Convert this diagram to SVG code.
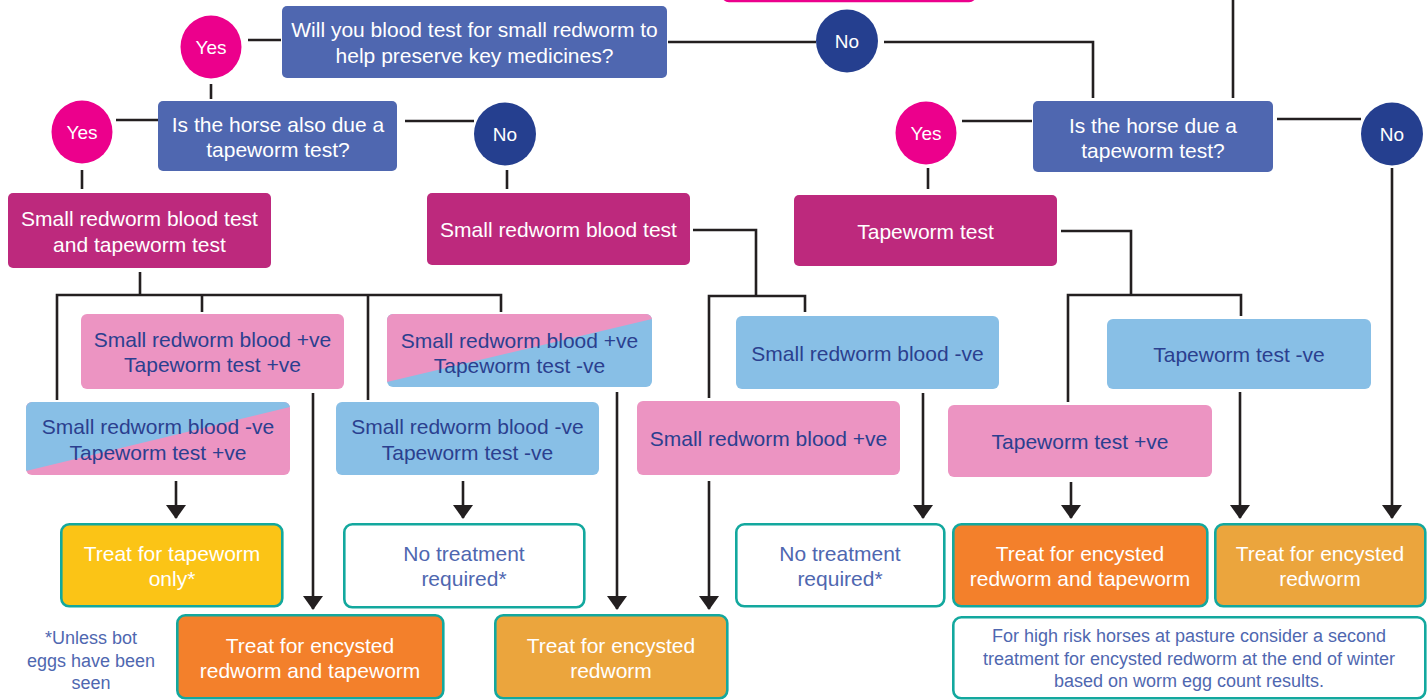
<svg xmlns="http://www.w3.org/2000/svg" width="1427" height="700" viewBox="0 0 1427 700">
<style>
text{font-family:"Liberation Sans",Arial,sans-serif;font-size:21px;text-anchor:middle}
.q{fill:#4F67B0}
.qt{fill:#FFFFFF}
.yes{fill:#EC008C}
.no{fill:#253F8F}
.ct{fill:#FFFFFF;font-size:19px}
.mag{fill:#BD297D}
.pink{fill:#EC94C2}
.blue{fill:#88BFE6}
.dt{fill:#2B3F8F}
.out{stroke:#13A89E;stroke-width:2.6}
.w{fill:#FFFFFF}
.yel{fill:#FBC416}
.org{fill:#F3802B}
.lor{fill:#EBA53D}
.bt{fill:#4F67B0}
.sm{font-size:18px}
.con path{fill:none;stroke:#231F20;stroke-width:2.6}
.arr{marker-end:url(#ah)}
</style>
<defs>
<marker id="ah" markerUnits="userSpaceOnUse" markerWidth="14" markerHeight="20" viewBox="0 0 14 20" refX="13" refY="10" orient="auto">
<path d="M0,0 L14,10 L0,20 z" fill="#231F20"/>
</marker>
<clipPath id="clipE"><rect x="387" y="314" width="265" height="73" rx="6"/></clipPath>
<clipPath id="clipF"><rect x="26" y="402" width="264" height="73" rx="6"/></clipPath>
</defs>

<g id="connectors" class="con">
<path d="M248,40 H281"/>
<path d="M668,42 H816"/>
<path d="M884,42 H1093 V98"/>
<path d="M211,84 V99"/>
<path d="M116,120 H158"/>
<path d="M405,121 H474"/>
<path d="M82,170 V189"/>
<path d="M507,170 V189"/>
<path d="M962,121 H1032"/>
<path d="M1277,119 H1361"/>
<path d="M928,168 V189"/>
<path d="M1233,0 V98"/>
<path d="M140,272 V295"/>
<path d="M57,400 V295 H501 V312"/>
<path d="M202,295 V312"/>
<path d="M368,295 V400"/>
<path d="M693,230 H756 V296"/>
<path d="M709,398 V296 H805 V312"/>
<path d="M1061,231 H1131 V295"/>
<path d="M1068,402 V295 H1241 V316"/>
<path class="arr" d="M176,481 V518"/>
<path class="arr" d="M313,393 V609"/>
<path class="arr" d="M463,481 V518"/>
<path class="arr" d="M617,392 V609"/>
<path class="arr" d="M709,481 V609"/>
<path class="arr" d="M923,393 V518"/>
<path class="arr" d="M1071,482 V518"/>
<path class="arr" d="M1240,392 V518"/>
<path class="arr" d="M1392,168 V518"/>
</g>

<g id="n-top"><rect x="723" y="-30" width="252" height="31" rx="6" fill="#FFFFFF" stroke="#EC008C" stroke-width="2.5"/></g>

<g id="n-q1"><rect class="q" x="282" y="6" width="385" height="72" rx="5"/>
<text class="qt" x="474.5" y="37">Will you blood test for small redworm to</text>
<text class="qt" x="474.5" y="63">help preserve key medicines?</text></g>

<g id="n-yes1"><ellipse class="yes" cx="211" cy="47" rx="30.5" ry="31.5"/><text class="ct" x="211" y="54">Yes</text></g>
<g id="n-no1"><ellipse class="no" cx="847" cy="41" rx="31" ry="31.5"/><text class="ct" x="847" y="48">No</text></g>

<g id="n-q2"><rect class="q" x="158" y="101" width="239" height="70" rx="5"/>
<text class="qt" x="278" y="132">Is the horse also due a</text>
<text class="qt" x="278" y="157">tapeworm test?</text></g>

<g id="n-yes2"><ellipse class="yes" cx="82" cy="132" rx="30.5" ry="31.5"/><text class="ct" x="82" y="139">Yes</text></g>
<g id="n-no2"><ellipse class="no" cx="505" cy="134" rx="31" ry="31.5"/><text class="ct" x="505" y="141">No</text></g>

<g id="n-q3"><rect class="q" x="1033" y="101" width="240" height="71" rx="5"/>
<text class="qt" x="1153" y="133">Is the horse due a</text>
<text class="qt" x="1153" y="158">tapeworm test?</text></g>

<g id="n-yes3"><ellipse class="yes" cx="926" cy="133" rx="30.5" ry="31.5"/><text class="ct" x="926" y="140">Yes</text></g>
<g id="n-no3"><ellipse class="no" cx="1392" cy="134" rx="31" ry="31.5"/><text class="ct" x="1392" y="141">No</text></g>

<g id="n-a"><rect class="mag" x="8" y="193" width="263" height="75" rx="5"/>
<text class="qt" x="139.5" y="226">Small redworm blood test</text>
<text class="qt" x="139.5" y="252">and tapeworm test</text></g>

<g id="n-b"><rect class="mag" x="427" y="193" width="263" height="72" rx="5"/>
<text class="qt" x="558.5" y="237">Small redworm blood test</text></g>

<g id="n-c"><rect class="mag" x="794" y="195" width="263" height="71" rx="5"/>
<text class="qt" x="925.5" y="239">Tapeworm test</text></g>

<g id="n-d"><rect class="pink" x="81" y="314" width="263" height="75" rx="6"/>
<text class="dt" x="212.5" y="347">Small redworm blood +ve</text>
<text class="dt" x="212.5" y="372">Tapeworm test +ve</text></g>

<g id="n-e"><g clip-path="url(#clipE)">
<rect class="blue" x="387" y="314" width="265" height="73"/>
<polygon class="pink" points="387,314 652,314 652,319 387,382"/></g>
<text class="dt" x="519.5" y="348">Small redworm blood +ve</text>
<text class="dt" x="519.5" y="373">Tapeworm test -ve</text></g>

<g id="n-f"><g clip-path="url(#clipF)">
<rect class="pink" x="26" y="402" width="264" height="73"/>
<polygon class="blue" points="26,402 290,402 290,407 26,471"/></g>
<text class="dt" x="158" y="434">Small redworm blood -ve</text>
<text class="dt" x="158" y="460">Tapeworm test +ve</text></g>

<g id="n-g"><rect class="blue" x="336" y="402" width="263" height="73" rx="6"/>
<text class="dt" x="467.5" y="434">Small redworm blood -ve</text>
<text class="dt" x="467.5" y="460">Tapeworm test -ve</text></g>

<g id="n-h"><rect class="blue" x="736" y="316" width="263" height="73" rx="6"/>
<text class="dt" x="867.5" y="361">Small redworm blood -ve</text></g>

<g id="n-i"><rect class="pink" x="637" y="401" width="263" height="74" rx="6"/>
<text class="dt" x="768.5" y="446">Small redworm blood +ve</text></g>

<g id="n-j"><rect class="blue" x="1107" y="319" width="264" height="70" rx="6"/>
<text class="dt" x="1239" y="362">Tapeworm test -ve</text></g>

<g id="n-k"><rect class="pink" x="948" y="405" width="264" height="72" rx="6"/>
<text class="dt" x="1080" y="449">Tapeworm test +ve</text></g>

<g id="n-o1"><rect class="out yel" x="61.3" y="524.3" width="221" height="82" rx="8"/>
<text class="qt" x="172" y="561">Treat for tapeworm</text>
<text class="qt" x="172" y="586">only*</text></g>

<g id="n-o2"><rect class="out w" x="344.3" y="524.3" width="240" height="83" rx="8"/>
<text class="bt" x="464" y="561">No treatment</text>
<text class="bt" x="464" y="586">required*</text></g>

<g id="n-o3"><rect class="out w" x="736.3" y="524.3" width="208" height="82" rx="8"/>
<text class="bt" x="840" y="561">No treatment</text>
<text class="bt" x="840" y="586">required*</text></g>

<g id="n-o4"><rect class="out org" x="953.3" y="524.3" width="254" height="82" rx="8"/>
<text class="qt" x="1080" y="561">Treat for encysted</text>
<text class="qt" x="1080" y="586">redworm and tapeworm</text></g>

<g id="n-o5"><rect class="out lor" x="1215.3" y="524.3" width="210" height="82" rx="8"/>
<text class="qt" x="1320" y="561">Treat for encysted</text>
<text class="qt" x="1320" y="586">redworm</text></g>

<g id="n-o6"><rect class="out org" x="177.3" y="615.3" width="266" height="83" rx="8"/>
<text class="qt" x="310" y="653">Treat for encysted</text>
<text class="qt" x="310" y="678">redworm and tapeworm</text></g>

<g id="n-o7"><rect class="out lor" x="495.3" y="615.3" width="232" height="83" rx="8"/>
<text class="qt" x="611" y="653">Treat for encysted</text>
<text class="qt" x="611" y="678">redworm</text></g>

<g id="n-note"><rect class="out w" x="953.3" y="617.3" width="472" height="81" rx="8"/>
<text class="bt sm" x="1189" y="642">For high risk horses at pasture consider a second</text>
<text class="bt sm" x="1189" y="665">treatment for encysted redworm at the end of winter</text>
<text class="bt sm" x="1189" y="687">based on worm egg count results.</text></g>

<g id="n-foot">
<text class="bt sm" x="91" y="644">*Unless bot</text>
<text class="bt sm" x="91" y="667">eggs have been</text>
<text class="bt sm" x="91" y="689">seen</text></g>
</svg>
